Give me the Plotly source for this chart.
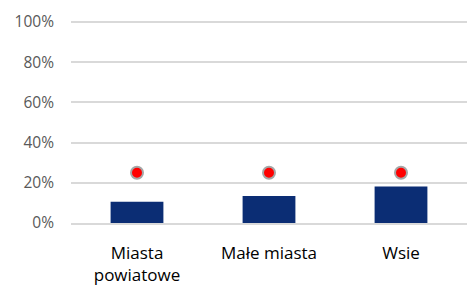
import plotly.graph_objects as go

categories = ["Miasta<br>powiatowe", "Małe miasta", "Wsie"]
bar_values = [0.106, 0.134, 0.181]
dot_values = [0.25, 0.25, 0.25]
tick_vals = [0, 0.2, 0.4, 0.6, 0.8, 1.0]
tick_text = ["0%", "20%", "40%", "60%", "80%", "100%"]

fig = go.Figure()
fig.add_trace(go.Bar(x=categories, y=bar_values, marker=dict(color="#0b2d74", line=dict(width=0)), width=0.4))
fig.add_trace(go.Scatter(x=categories, y=dot_values, mode="markers",
                         marker=dict(color="#ff0000", size=12, line=dict(color="#a6a6a6", width=2))))
fig.update_layout(
    width=467, height=285, margin=dict(l=71, r=0, t=20, b=62),
    paper_bgcolor="white", plot_bgcolor="white", showlegend=False,
    font=dict(family="Open Sans", color="#000000"),
)
fig.update_yaxes(range=[0, 1.01], tickvals=tick_vals, ticktext=tick_text, showgrid=True,
                 gridcolor="#d9d9d9", gridwidth=1.5, zeroline=False, automargin=False,
                 tickfont=dict(size=15.5, color="#595959"), ticklabelstandoff=16, showline=False)
fig.update_xaxes(range=[-0.5, 2.5], showline=True, linecolor="#d9d9d9", linewidth=1.5, automargin=False,
                 tickfont=dict(size=17, color="#000000"), ticklabelstandoff=14, ticks="")
fig.write_html("out.html", config={"displayModeBar": False},
               post_script="document.body.style.margin='0';")
